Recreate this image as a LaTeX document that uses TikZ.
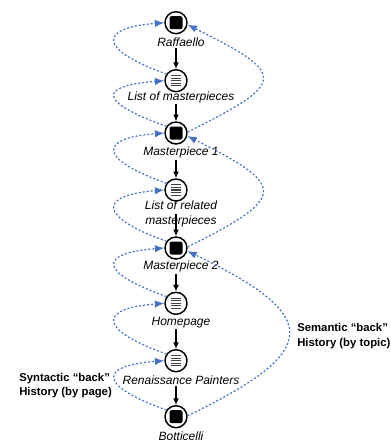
\documentclass[tikz,border=0pt]{standalone}
\usepackage{fontspec}
\setmainfont{Liberation Sans}
\usepackage{tikz}
\usetikzlibrary{arrows.meta}

\definecolor{backblue}{RGB}{68,114,196}

\begin{document}
\begin{tikzpicture}[x=0.75pt,y=0.75pt,yscale=-1,xscale=1,
  pagenode/.style={circle,draw,line width=1.1pt,fill=white,minimum size=16.5pt,inner sep=0pt},
  caption/.style={font=\fontsize{9}{11}\selectfont\itshape,inner sep=0.75pt,align=center},
  note/.style={font=\fontsize{8.5}{11}\selectfont\bfseries,inner sep=0.75pt,align=left,anchor=west},
  follow/.style={line width=1.1pt,-{Latex[length=5pt,width=4.5pt]}},
  back/.style={backblue,line width=0.9pt,dash pattern=on 1.5pt off 1.5pt,-{Latex[length=7pt,width=5.5pt]}}
]
\useasboundingbox (0,0) rectangle (391,440);

%Shape: Circles, pages and lists
\node[pagenode] (raf) at (176,22.7) {};
\node[pagenode] (lom) at (176,80.7) {};
\node[pagenode] (mp1) at (176,133) {};
\node[pagenode] (lor) at (176,190) {};
\node[pagenode] (mp2) at (176,248) {};
\node[pagenode] (hom) at (176,303.3) {};
\node[pagenode] (ren) at (176,360.7) {};
\node[pagenode] (bot) at (176,416.7) {};

% page icons
\foreach \n in {raf,mp1,mp2,bot}
  \fill[rounded corners=1.5pt] ([shift={(-6.5,-6.5)}]\n.center) rectangle ([shift={(6.5,6.5)}]\n.center);
% list icons
\foreach \n in {lom,lor,hom,ren}
  \foreach \k in {-5.2,-2.6,0,2.6,5.2}
    \draw[line width=0.8pt,black!75] ([shift={(-5,\k)}]\n.center) -- ([shift={(5,\k)}]\n.center);

% Text Node
\node[caption] (t1) at (181,42) {Raffaello};
\node[caption] (t2) at (181,97) {List of masterpieces};
\node[caption] (t3) at (181,152.7) {Masterpiece 1};
\node[caption] (t4) at (181,214) {List of related\\masterpieces};
\node[caption] (t5) at (181,266.7) {Masterpiece 2};
\node[caption] (t6) at (181,322.7) {Homepage};
\node[caption] (t7) at (181,380) {Renaissance Painters};
\node[caption] (t8) at (181,436.7) {Botticelli};

%Straight Lines: following links
\draw[follow] (t1.south -| raf.center) -- (lom);
\draw[follow] (t2.south -| lom.center) -- (mp1);
\draw[follow] (t3.south -| mp1.center) -- (lor);
\draw[follow] (t4.center -| lor.center) -- (mp2);
\draw[follow] (t5.south -| mp2.center) -- (hom);
\draw[follow] (t6.south -| hom.center) -- (ren);
\draw[follow] (t7.south -| ren.center) -- (bot);

%Curves: syntactic back (by page)
\foreach \a/\b in {lom/raf,mp1/lom,lor/mp1,mp2/lor,hom/mp2,ren/hom,bot/ren}
  \draw[back] (\a.145) .. controls +(-70,-25) and +(-65,5) .. (\b.west);

%Curves: semantic back (by topic)
\draw[back] (mp1.5) .. controls +(100,-50) and +(100,50) .. (raf.-10);
\draw[back] (mp2.5) .. controls +(100,-50) and +(100,50) .. (mp1.-15);
\draw[back] (bot.5) .. controls +(135,-65) and +(135,65) .. (mp2.-15);

% Text Node
\node[note] (sem) at (296,335.8) {Semantic “back”\\History (by topic)};
\node[note] (syn) at (18,385.5) {Syntactic “back”\\History (by page)};

\end{tikzpicture}
\end{document}
